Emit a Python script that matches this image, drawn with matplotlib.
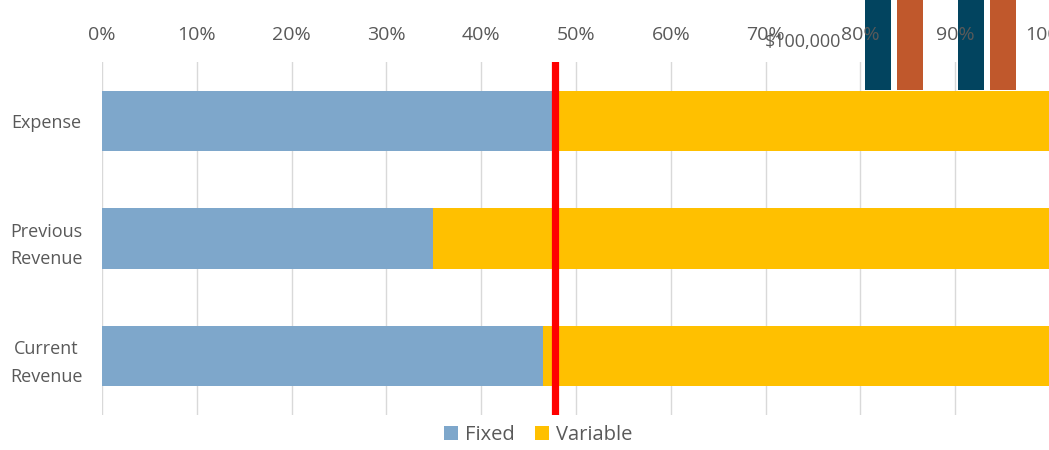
import numpy as np
import matplotlib.pyplot as plt

categories = ['Expense', 'Previous\nRevenue', 'Current\nRevenue']
fixed = [0.475, 0.349, 0.465]
variable = [1 - v for v in fixed]
marker = 0.478
xticks = np.arange(0, 1.01, 0.1)

# stray bars from a chart lying behind this one
other_groups = [0, 1]
other_dark = [250000, 250000]
other_orange = [250000, 250000]
other_tick = [100000]

plt.rcParams['font.family'] = ['Open Sans', 'DejaVu Sans']
grey = '#595959'

fig = plt.figure(figsize=(10.49, 4.5), dpi=100)
fig.patch.set_facecolor('white')

# background chart (only partly visible)
ax2 = fig.add_axes([850 / 1049, 0.8, 180 / 1049, 0.2], zorder=0)
g = np.array(other_groups)
ax2.bar(g - 0.17, other_dark, width=0.28, color='#02445F')
ax2.bar(g + 0.17, other_orange, width=0.28, color='#C0582C')
ax2.set_xlim(-0.473, 1.462)
ax2.set_ylim(0, 180000)
ax2.set_yticks(other_tick)
ax2.set_yticklabels(['$100,000'], color=grey, fontsize=13)
ax2.tick_params(axis='y', length=0, pad=6)
ax2.set_xticks([])
for s in ax2.spines.values():
    s.set_visible(False)
ax2.patch.set_alpha(0)

# main chart
ax = fig.add_axes([102 / 1049, 1 - 415 / 450, 948 / 1049, 353 / 450], zorder=1)
ax.patch.set_alpha(0)
y = np.arange(len(categories))
ax.barh(y, fixed, height=0.51, color='#7EA7CB', label='Fixed', zorder=2)
ax.barh(y, variable, left=fixed, height=0.51, color='#FFC000', label='Variable', zorder=2)
ax.axvline(marker, color='#FF0000', linewidth=5.2, zorder=3)

ax.set_xlim(0, 1)
ax.set_ylim(2.5, -0.5)
ax.set_xticks(xticks)
ax.set_xticklabels([f'{int(round(t * 100))}%' for t in xticks], color=grey, fontsize=14)
ax.xaxis.tick_top()
ax.tick_params(axis='x', length=0, pad=13)
ax.set_yticks(y)
ax.set_yticklabels(categories, color=grey, fontsize=13, ha='center', linespacing=1.7)
ax.tick_params(axis='y', length=0, pad=40)
ax.grid(axis='x', color='#D9D9D9', linewidth=1, zorder=0)
ax.set_axisbelow(True)
for s in ax.spines.values():
    s.set_visible(False)

fig.legend(loc='center', bbox_to_anchor=(538 / 1049, 1 - 435 / 450), ncol=2,
           frameon=False, fontsize=14.5, handlelength=0.7, handleheight=0.7,
           handletextpad=0.35, columnspacing=1.0, labelcolor=grey)

plt.savefig('out.png', dpi=100)
plt.close()
